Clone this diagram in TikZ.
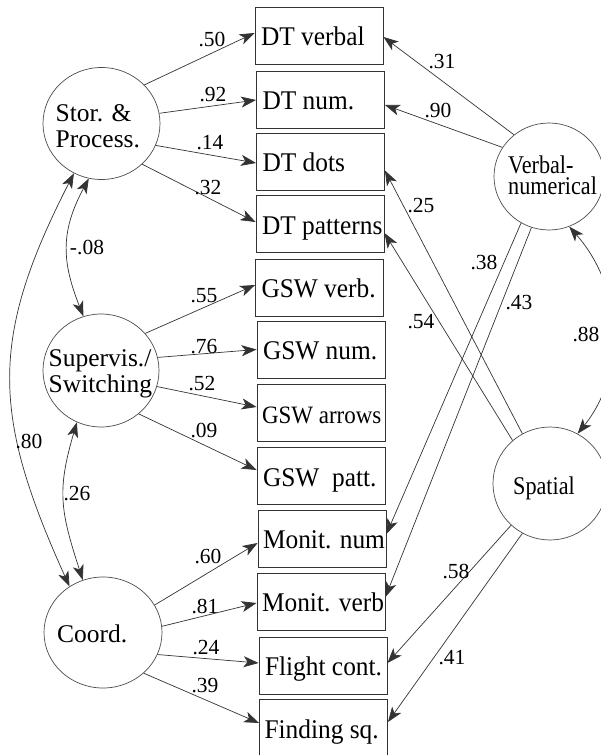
\documentclass[tikz,border=0pt]{standalone}
\usepackage{fontspec}
\setmainfont{Liberation Serif}
\newfontfamily\boxfont[FakeStretch=0.94]{Liberation Serif}
\newfontfamily\smallboxfont[FakeStretch=0.92]{Liberation Serif}
\newfontfamily\narrowfont[FakeStretch=0.87]{Liberation Serif}
\usetikzlibrary{arrows.meta,calc,shapes.geometric}
% left-aligned text inside a measure box, never wrapped
\newcommand\obstext[2][6pt]{\makebox[128pt][l]{\hspace*{#1}#2}}

\begin{document}
\begin{tikzpicture}[x=1pt,y=-1pt,
  >={Stealth[length=15pt,width=11pt,inset=4pt]},
  obs/.style={draw=black!80, line width=0.9pt, rectangle,
    minimum width=128pt, minimum height=57pt,
    inner xsep=0pt, text height=24pt, text depth=4pt,
    font=\boxfont\fontsize{27}{27}\selectfont},
  lat/.style={draw=black!70, line width=0.7pt, ellipse,
    minimum width=117pt, minimum height=112pt, inner sep=0pt},
  ltxt/.style={anchor=base west, inner sep=0pt,
    font=\fontsize{25.5}{25.5}\selectfont},
  rtxt/.style={anchor=base west, inner sep=0pt,
    font=\narrowfont\fontsize{25.5}{21}\selectfont},
  coef/.style={inner sep=0pt, font=\fontsize{21.5}{21.5}\selectfont},
  loading/.style={draw=black!80, line width=0.7pt, ->},
  covar/.style={draw=black!80, line width=0.7pt, <->}]

\path[use as bounding box, fill=white] (0,0) rectangle (601,755);

% latent factors
\node[lat] (stor) at (101.5,123.5) {};
\node[lat, minimum width=116pt, minimum height=113pt] (sup) at (101,370.5) {};
\node[lat, minimum width=118pt, minimum height=111pt] (coord) at (103,632.5) {};
\node[lat, minimum width=110pt, minimum height=107pt] (vn) at (549,176.5) {};
\node[lat, minimum width=114pt, minimum height=113pt] (spat) at (550,483.5) {};

\node[ltxt] (storA) at (55.5,121) {Stor. \&};
\node[ltxt] (storB) at (55.5,147) {Process.};
\node[ltxt] (supA) at (48.5,366) {Supervis./};
\node[ltxt] (supB) at (48.5,392) {Switching};
\node[ltxt] (coordA) at (57,642) {Coord.};
\node[rtxt, anchor=west, align=left] (vnA) at (508,175.3) {Verbal-\\numerical};
\node[rtxt] (spatA) at (513,494) {Spatial};

% observed measures
\node[obs] (dtv) at (319,35.5) {\obstext{DT verbal}};
\node[obs] (dtn) at (320.5,99.5) {\obstext{DT num.}};
\node[obs] (dtd) at (320.5,161.5) {\obstext{DT dots}};
\node[obs] (dtp) at (320,224) {\obstext{DT patterns}};
\node[obs] (gv) at (319.5,287.5) {\obstext{GSW verb.}};
\node[obs] (gn) at (321,349.5) {\obstext{GSW num.}};
\node[obs, font=\smallboxfont\fontsize{25}{25}\selectfont] (ga) at (321,413) {\obstext[5pt]{GSW arrows}};
\node[obs] (gp) at (321,476) {\obstext{GSW~~patt.}};
\node[obs] (mn) at (322,538.5) {\obstext[5pt]{Monit. num}};
\node[obs] (mv) at (321,601.5) {\obstext[5pt]{Monit. verb}};
\node[obs] (fl) at (323,665.5) {\obstext{Flight cont.}};
\node[obs] (fi) at (323.5,728) {\obstext[5pt]{Finding sq.}};

% loadings of the left factors
\draw[loading] (stor.42) -- ($(dtv.west)+(0,-2.5)$);
\draw[loading] (stor.10) -- ($(dtn.west)+(0,0.5)$);
\draw[loading] (stor.338) -- ($(dtd.west)+(0,1.5)$);
\draw[loading] (stor.315) -- ($(dtp.west)+(0,-2)$);
\draw[loading] (sup.40) -- ($(gv.west)+(0,-2.5)$);
\draw[loading] (sup.13) -- ($(gn.west)+(0,0)$);
\draw[loading] (sup.344) -- ($(ga.west)+(0,-6)$);
\draw[loading] (sup.311) -- ($(gp.west)+(0,-6)$);
\draw[loading] (coord.28) -- ($(mn.west)+(0,4.5)$);
\draw[loading] (coord.6) -- ($(mv.west)+(0,1.5)$);
\draw[loading] (coord.338) -- ($(fl.west)+(0,-2.5)$);
\draw[loading] (coord.315) -- ($(fi.west)+(0,-5)$);

% loadings of the right factors
\draw[loading] (vn.130) -- ($(dtv.east)+(0,1.5)$);
\draw[loading] (vn.148) -- ($(dtn.east)+(0,5.5)$);
\draw[loading] (vn.239) -- ($(mn.east)+(0,-4.5)$);
\draw[loading] (vn.251) -- ($(mv.east)+(0,-4.5)$);
\draw[loading] (spat.119) -- ($(dtd.east)+(0,9)$);
\draw[loading] (spat.131) -- ($(dtp.east)+(0,9)$);
\draw[loading] (spat.227) -- ($(fl.east)+(0,-2.5)$);
\draw[loading] (spat.241) -- ($(fi.east)+(0,-6)$);

% factor correlations
\draw[covar] (stor.257) .. controls (60,232) and (62,262) .. (sup.108);
\draw[covar] (stor.241) .. controls (-11,339) and (-8,415) .. (coord.126);
\draw[covar] (sup.245) .. controls (57,490) and (60,510) .. (coord.111);
\draw[covar] (vn.292) .. controls (625,290) and (625,375) .. (spat.61);

% coefficients
\node[coef] (c50) at (212,40) {.50};
\node[coef] (c92) at (213,95) {.92};
\node[coef] (c14) at (210,143) {.14};
\node[coef] (c32) at (208,188) {.32};
\node[coef] (c55) at (204,296) {.55};
\node[coef] (c76) at (204,347) {.76};
\node[coef] (c52) at (202,384) {.52};
\node[coef] (c09) at (204,430) {.09};
\node[coef] (c60) at (208,556) {.60};
\node[coef] (c81) at (205,606) {.81};
\node[coef] (c24) at (206,648) {.24};
\node[coef] (c39) at (205,686) {.39};
\node[coef] (c31) at (442,62) {.31};
\node[coef] (c90) at (438,111) {.90};
\node[coef] (c25) at (421,206) {.25};
\node[coef] (c54) at (421,322) {.54};
\node[coef] (c38) at (484,262) {.38};
\node[coef] (c43) at (519,303) {.43};
\node[coef] (c58) at (456,571) {.58};
\node[coef] (c41) at (452,658) {.41};
\node[coef] (c88) at (586,334) {.88};
\node[coef] (c08) at (87,247) {-.08};
\node[coef] (c80) at (29,441) {.80};
\node[coef] (c26) at (77,494) {.26};
\end{tikzpicture}
\end{document}
